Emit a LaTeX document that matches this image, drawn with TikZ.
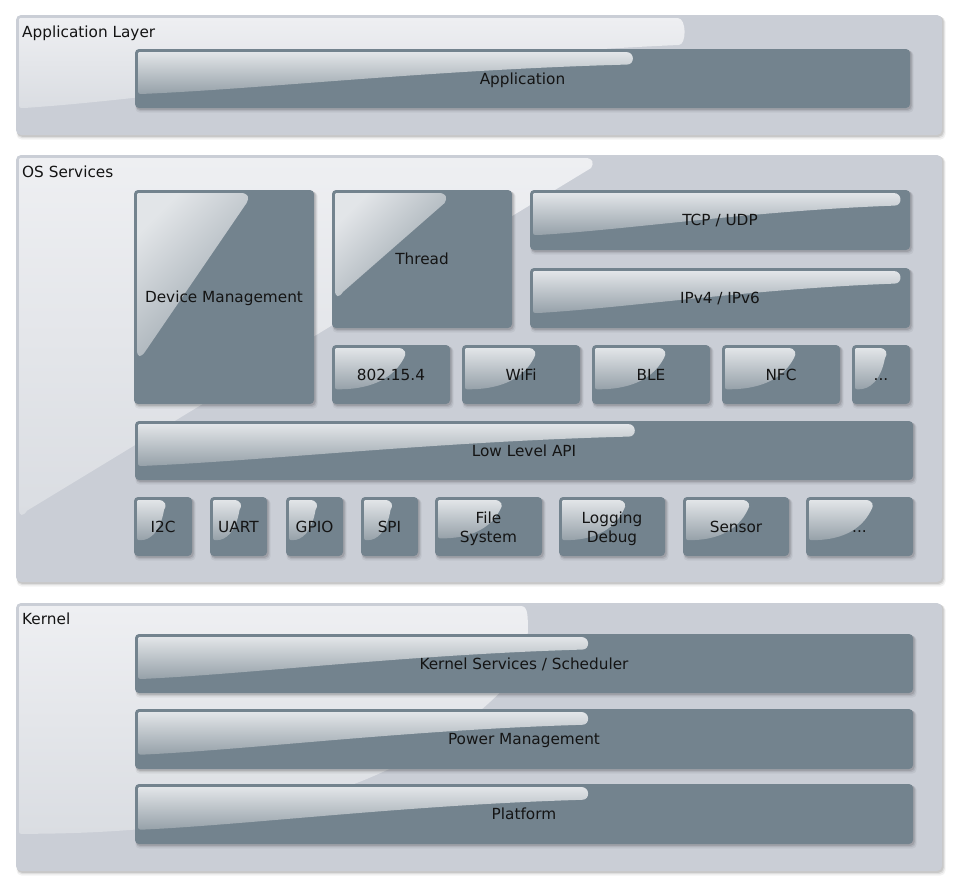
\documentclass[tikz,border=0pt]{standalone}
\usepackage{fontspec}
\setmainfont{DejaVu Sans}
\definecolor{layerbg}{RGB}{202,206,214}
\definecolor{layerglA}{RGB}{238,239,242}
\definecolor{layerglB}{RGB}{218,221,226}
\definecolor{boxbg}{RGB}{115,131,142}
\definecolor{boxglA}{RGB}{226,229,232}
\definecolor{boxglB}{RGB}{150,161,169}
\definecolor{txt}{RGB}{20,20,20}
\tikzset{
  layerfill/.style={fill=layerbg, rounded corners=5pt},
  boxfill/.style={fill=boxbg, rounded corners=4pt},
  boxgloss/.style={top color=boxglA, bottom color=boxglB},
  boxglossdiag/.style={top color=boxglA, bottom color=boxglB, shading angle=45},
  layergloss/.style={top color=layerglA, bottom color=layerglB},
  lbl/.style={font=\fontsize{15.3}{19}\selectfont, text=txt, align=center, inner sep=0pt, text height=11.2pt, text depth=0pt},
  twoline/.style={text height={}, text depth={}, yshift=-2.5pt},
  fs opts/.style={twoline},
  log opts/.style={twoline},
  layerlbl/.style={font=\fontsize{15.3}{19}\selectfont, text=txt, anchor=base west, inner sep=0pt},
}
\newcommand\softshadow[5]{%
  \fill[black, opacity=0.05, rounded corners=#5pt] (#1+0.5,#2+2) rectangle (#3+3.5,#4+4.5);
  \fill[black, opacity=0.08, rounded corners=#5pt] (#1+1,#2+1.5) rectangle (#3+2.5,#4+3);
  \fill[black, opacity=0.10, rounded corners=#5pt] (#1+1,#2+1) rectangle (#3+1.5,#4+1.8);
}
\newcommand\gloss[8]{%
  \pgfmathsetmacro\gL{#2+3}\pgfmathsetmacro\gT{#3+3}%
  \pgfmathsetmacro\gw{#6*(#4-#2)}\pgfmathsetmacro\gh{#7*(#5-#3)}%
  \pgfmathsetmacro\gR{\gL+\gw}\pgfmathsetmacro\gB{\gT+\gh}%
  \ifcase#8
    \path[#1] (\gL,\gT+4) .. controls (\gL,\gT) .. (\gL+4,\gT) -- (\gR-8,\gT)
      .. controls (\gR+1,\gT) and (\gR+1,\gT+0.3*\gh) .. (\gR-7,\gT+0.3*\gh)
      .. controls (\gL+0.6*\gw,\gT+0.42*\gh) and (\gL+0.25*\gw,\gT+0.88*\gh) .. (\gL+5,\gB)
      .. controls (\gL,\gB) .. (\gL,\gB-5) -- cycle;
  \or
    \path[#1] (\gL,\gT+4) .. controls (\gL,\gT) .. (\gL+4,\gT) -- (\gR-8,\gT)
      .. controls (\gR,\gT) and (\gR+1,\gT+5) .. (\gR-2,\gT+10) -- (\gL+8,\gB-6)
      .. controls (\gL+4,\gB) and (\gL,\gB) .. (\gL,\gB-8) -- cycle;
  \or
    \path[#1] (\gL,\gT+4) .. controls (\gL,\gT) .. (\gL+4,\gT) -- (\gR-8,\gT)
      .. controls (\gR,\gT) and (\gR+1,\gT+6) .. (\gR-2,\gT+0.25*\gh)
      .. controls (\gR-0.2*\gw,\gT+0.8*\gh) and (\gL+0.45*\gw,\gB) .. (\gL+4,\gB)
      .. controls (\gL,\gB) .. (\gL,\gB-5) -- cycle;
  \fi
}
\newcommand\blk[9]{%
  \softshadow{#2}{#3}{#4}{#5}{4}
  \fill[boxfill] (#2,#3) rectangle (#4,#5);
  \ifnum#9=1 \gloss{boxglossdiag}{#2}{#3}{#4}{#5}{#7}{#8}{#9}\else\gloss{boxgloss}{#2}{#3}{#4}{#5}{#7}{#8}{#9}\fi
  \pgfmathsetmacro\bw{#4-#2}\pgfmathsetmacro\bh{#5-#3}%
  \node[lbl, #1 opts/.try, minimum width=\bw pt, minimum height=\bh pt] (#1) at ({(#2+#4)/2},{(#3+#5)/2}) {#6};
}
\begin{document}
\begin{tikzpicture}[x=1pt,y=-1pt]
\useasboundingbox[fill=white] (0,0) rectangle (957,887);
% ---------- Application layer
\softshadow{16}{15}{942}{135}{5}
\fill[layerfill] (16,15) rectangle (942,135);
\gloss{layergloss}{16}{15}{942}{135}{0.72}{0.75}{0}
\node[layerlbl] (appL) at (22,37) {Application Layer};
\blk{app}{135}{49}{910}{108}{Application}{0.64}{0.71}{0}
% ---------- OS services layer
\softshadow{16}{155}{942}{582}{5}
\fill[layerfill] (16,155) rectangle (942,582);
\gloss{layergloss}{16}{155}{942}{582}{0.62}{0.84}{1}
\node[layerlbl] (osL) at (22,177) {OS Services};
\blk{devmgmt}{134}{190}{314}{404}{Device Management}{0.62}{0.77}{1}
\blk{thread}{332}{190}{512}{328}{Thread}{0.62}{0.76}{1}
\blk{tcp}{530}{190}{910}{250}{TCP / UDP}{0.97}{0.7}{0}
\blk{ip}{530}{268}{910}{328}{IPv4 / IPv6}{0.97}{0.7}{0}
\blk{ieee}{332}{345}{450}{404}{802.15.4}{0.6}{0.7}{2}
\blk{wifi}{462}{345}{580}{404}{WiFi}{0.6}{0.7}{2}
\blk{ble}{592}{345}{710}{404}{BLE}{0.6}{0.7}{2}
\blk{nfc}{722}{345}{840}{404}{NFC}{0.6}{0.7}{2}
\blk{netmore}{852}{345}{910}{404}{...}{0.55}{0.7}{2}
\blk{lowapi}{135}{421}{913}{480}{Low Level API}{0.64}{0.71}{0}
\blk{i2c}{134}{497}{192}{556}{I2C}{0.5}{0.68}{2}
\blk{uart}{210}{497}{267}{556}{UART}{0.5}{0.68}{2}
\blk{gpio}{286}{497}{343}{556}{GPIO}{0.5}{0.68}{2}
\blk{spi}{361}{497}{418}{556}{SPI}{0.5}{0.68}{2}
\blk{fs}{435}{497}{542}{556}{File\\System}{0.6}{0.65}{2}
\blk{log}{559}{497}{665}{556}{Logging\\Debug}{0.6}{0.68}{2}
\blk{sensor}{683}{497}{789}{556}{Sensor}{0.6}{0.68}{2}
\blk{drvmore}{806}{497}{913}{556}{...}{0.6}{0.68}{2}
% ---------- Kernel layer
\softshadow{16}{603}{942}{871}{5}
\fill[layerfill] (16,603) rectangle (942,871);
\gloss{layergloss}{16}{603}{942}{871}{0.55}{0.85}{2}
\node[layerlbl] (kL) at (22,624.5) {Kernel};
\blk{ksched}{135}{634}{913}{693}{Kernel Services / Scheduler}{0.58}{0.71}{0}
\blk{pm}{135}{709}{913}{769}{Power Management}{0.58}{0.71}{0}
\blk{plat}{135}{784}{913}{844}{Platform}{0.58}{0.71}{0}
\end{tikzpicture}
\end{document}
